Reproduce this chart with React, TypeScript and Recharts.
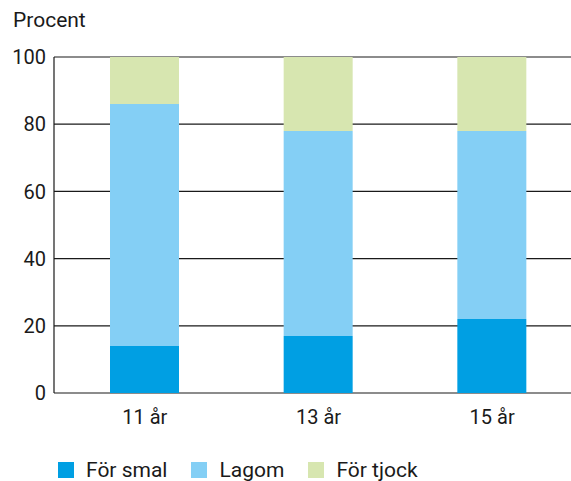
import { BarChart, Bar, XAxis, YAxis, CartesianGrid, Legend } from 'recharts';

const categories = ['11 år', '13 år', '15 år'];
const forSmal = [14, 17, 22];
const lagom = [72, 61, 56];
const forTjock = [14, 22, 22];
const yTicks = [0, 20, 40, 60, 80, 100];

const series = [
  { key: 'forSmal', name: 'För smal', color: '#009fe3' },
  { key: 'lagom', name: 'Lagom', color: '#84cff5' },
  { key: 'forTjock', name: 'För tjock', color: '#d7e6b0' },
];

const data = categories.map((name, i) => ({
  name,
  forSmal: forSmal[i],
  lagom: lagom[i],
  forTjock: forTjock[i],
}));

const font = 'Roboto, "Noto Sans", sans-serif';

const LegendContent = () => (
  <div style={{ display: 'flex', paddingLeft: 58, paddingTop: 37, fontFamily: font, fontSize: 21, lineHeight: '20px', color: '#1a1a1a' }}>
    {series.map((s) => (
      <div key={s.key} style={{ display: 'flex', alignItems: 'center', marginRight: 24 }}>
        <span style={{ width: 16, height: 16, background: s.color, marginRight: 12, display: 'inline-block' }} />
        <span>{s.name}</span>
      </div>
    ))}
  </div>
);

export default function App() {
  return (
    <div style={{ position: 'fixed', left: 0, top: 0, width: 571, height: 481, overflow: 'hidden', background: '#fff' }}>
      <div style={{ position: 'absolute', left: 13, top: 8, fontFamily: font, fontSize: 21, color: '#1a1a1a' }}>
        Procent
      </div>
      <BarChart
        width={579}
        height={481}
        data={data}
        margin={{ top: 57, right: 0, left: 0, bottom: 0 }}
        barSize={69}
      >
        <CartesianGrid vertical={false} stroke="#1a1a1a" strokeWidth={1.2} />
        <XAxis
          dataKey="name"
          axisLine={false}
          tickLine={false}
          padding={{ left: 4, right: 0 }}
          height={30}
          tickMargin={11}
          tick={{ fontSize: 20, fontFamily: font, fill: '#1a1a1a' }}
        />
        <YAxis
          width={54}
          domain={[0, 100]}
          ticks={yTicks}
          axisLine={{ stroke: '#1a1a1a', strokeWidth: 1.2 }}
          tickLine={false}
          tick={{ fontSize: 20, fontFamily: font, fill: '#1a1a1a' }}
        />
        <Legend verticalAlign="bottom" align="left" height={58} content={LegendContent} />
        {series.map((s) => (
          <Bar key={s.key} dataKey={s.key} name={s.name} stackId="a" fill={s.color} isAnimationActive={false} />
        ))}
      </BarChart>
    </div>
  );
}
